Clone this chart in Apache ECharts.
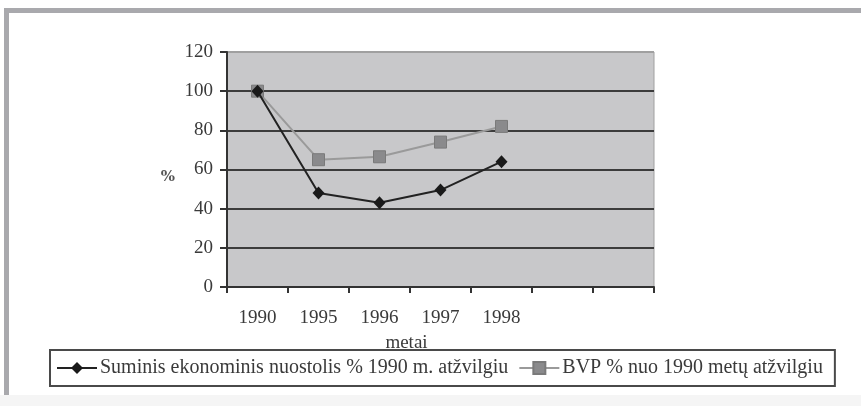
<!DOCTYPE html>
<html>
<head>
<meta charset="utf-8">
<script src="https://cdn.jsdelivr.net/npm/echarts@6/dist/echarts.min.js"></script>
<style>
  html, body { margin: 0; padding: 0; background: #ffffff; }
  #chart { width: 861px; height: 406px; }
</style>
</head>
<body>
<div id="chart"></div>
<script>
const categories = ['1990', '1995', '1996', '1997', '1998', '', ''];
const lossValues = [100, 48, 43, 49.5, 64];
const gdpValues = [100, 65, 66.5, 74, 82];
const seriesNames = ['Suminis ekonominis nuostolis % 1990 m. atžvilgiu', 'BVP % nuo 1990 metų atžvilgiu'];
const yTicks = { min: 0, max: 120, interval: 20 };

const FONT = 'Liberation Serif';
const TEXT = '#3a3a3a';

const chart = echarts.init(document.getElementById('chart'), null, { renderer: 'canvas' });
chart.setOption({
  animation: false,
  backgroundColor: '#ffffff',
  graphic: [
    { type: 'rect', silent: true, z: -10, shape: { x: 0, y: 395, width: 861, height: 11 }, style: { fill: '#f5f5f5' } },
    { type: 'rect', silent: true, z: -5, shape: { x: 4, y: 8, width: 857, height: 5 }, style: { fill: '#a9a9ad' } },
    { type: 'rect', silent: true, z: -5, shape: { x: 4, y: 8, width: 5, height: 387 }, style: { fill: '#a9a9ad' } }
  ],
  grid: {
    left: 227, right: 207, top: 52, bottom: 119,
    show: true, backgroundColor: '#c8c8ca', borderColor: '#a0a0a0', borderWidth: 1
  },
  legend: {
    left: 50, top: 350,
    orient: 'horizontal',
    borderColor: '#4a4a4a', borderWidth: 2,
    padding: [8, 12, 8, 6],
    itemGap: 10,
    itemWidth: 40, itemHeight: 15,
    textStyle: { fontFamily: FONT, fontSize: 20, color: TEXT, padding: [0, 0, 0, -2] },
    data: seriesNames
  },
  xAxis: {
    type: 'category',
    data: categories,
    boundaryGap: true,
    name: 'metai',
    nameLocation: 'middle',
    nameGap: 47,
    nameTextStyle: { fontFamily: FONT, fontSize: 19, color: TEXT, padding: [0, 68, 0, 0] },
    axisLine: { lineStyle: { color: '#333', width: 2 } },
    axisTick: { show: true, length: 6, lineStyle: { color: '#333', width: 2 } },
    axisLabel: { fontFamily: FONT, fontSize: 19, color: TEXT, margin: 22 },
    splitLine: { show: false }
  },
  yAxis: {
    type: 'value',
    min: yTicks.min, max: yTicks.max, interval: yTicks.interval,
    name: '%',
    nameLocation: 'middle',
    nameRotate: 0,
    nameGap: 52,
    nameTextStyle: { fontFamily: 'DejaVu Serif', fontSize: 15, fontWeight: 'bold', color: '#555', verticalAlign: 'top' },
    axisLine: { show: true, lineStyle: { color: '#333', width: 2 } },
    axisTick: { show: true, length: 7, lineStyle: { color: '#333', width: 2 } },
    axisLabel: { fontFamily: FONT, fontSize: 19, color: TEXT, margin: 14 },
    splitLine: { show: true, lineStyle: { color: ['#3c3c3c', '#3c3c3c', '#3c3c3c', '#3c3c3c', '#3c3c3c', '#3c3c3c', '#a0a0a0'], width: 2 } }
  },
  series: [
    {
      name: seriesNames[0],
      type: 'line',
      data: lossValues,
      symbol: 'diamond',
      symbolSize: [12, 13],
      itemStyle: { color: '#1a1a1a' },
      lineStyle: { color: '#222', width: 2 },
      z: 3
    },
    {
      name: seriesNames[1],
      type: 'line',
      data: gdpValues,
      symbol: 'rect',
      symbolSize: 12,
      itemStyle: { color: '#8a8a8c', borderColor: '#7a7a7a', borderWidth: 1 },
      lineStyle: { color: '#9a9a9a', width: 2 },
      z: 2
    }
  ]
});
</script>
</body>
</html>
